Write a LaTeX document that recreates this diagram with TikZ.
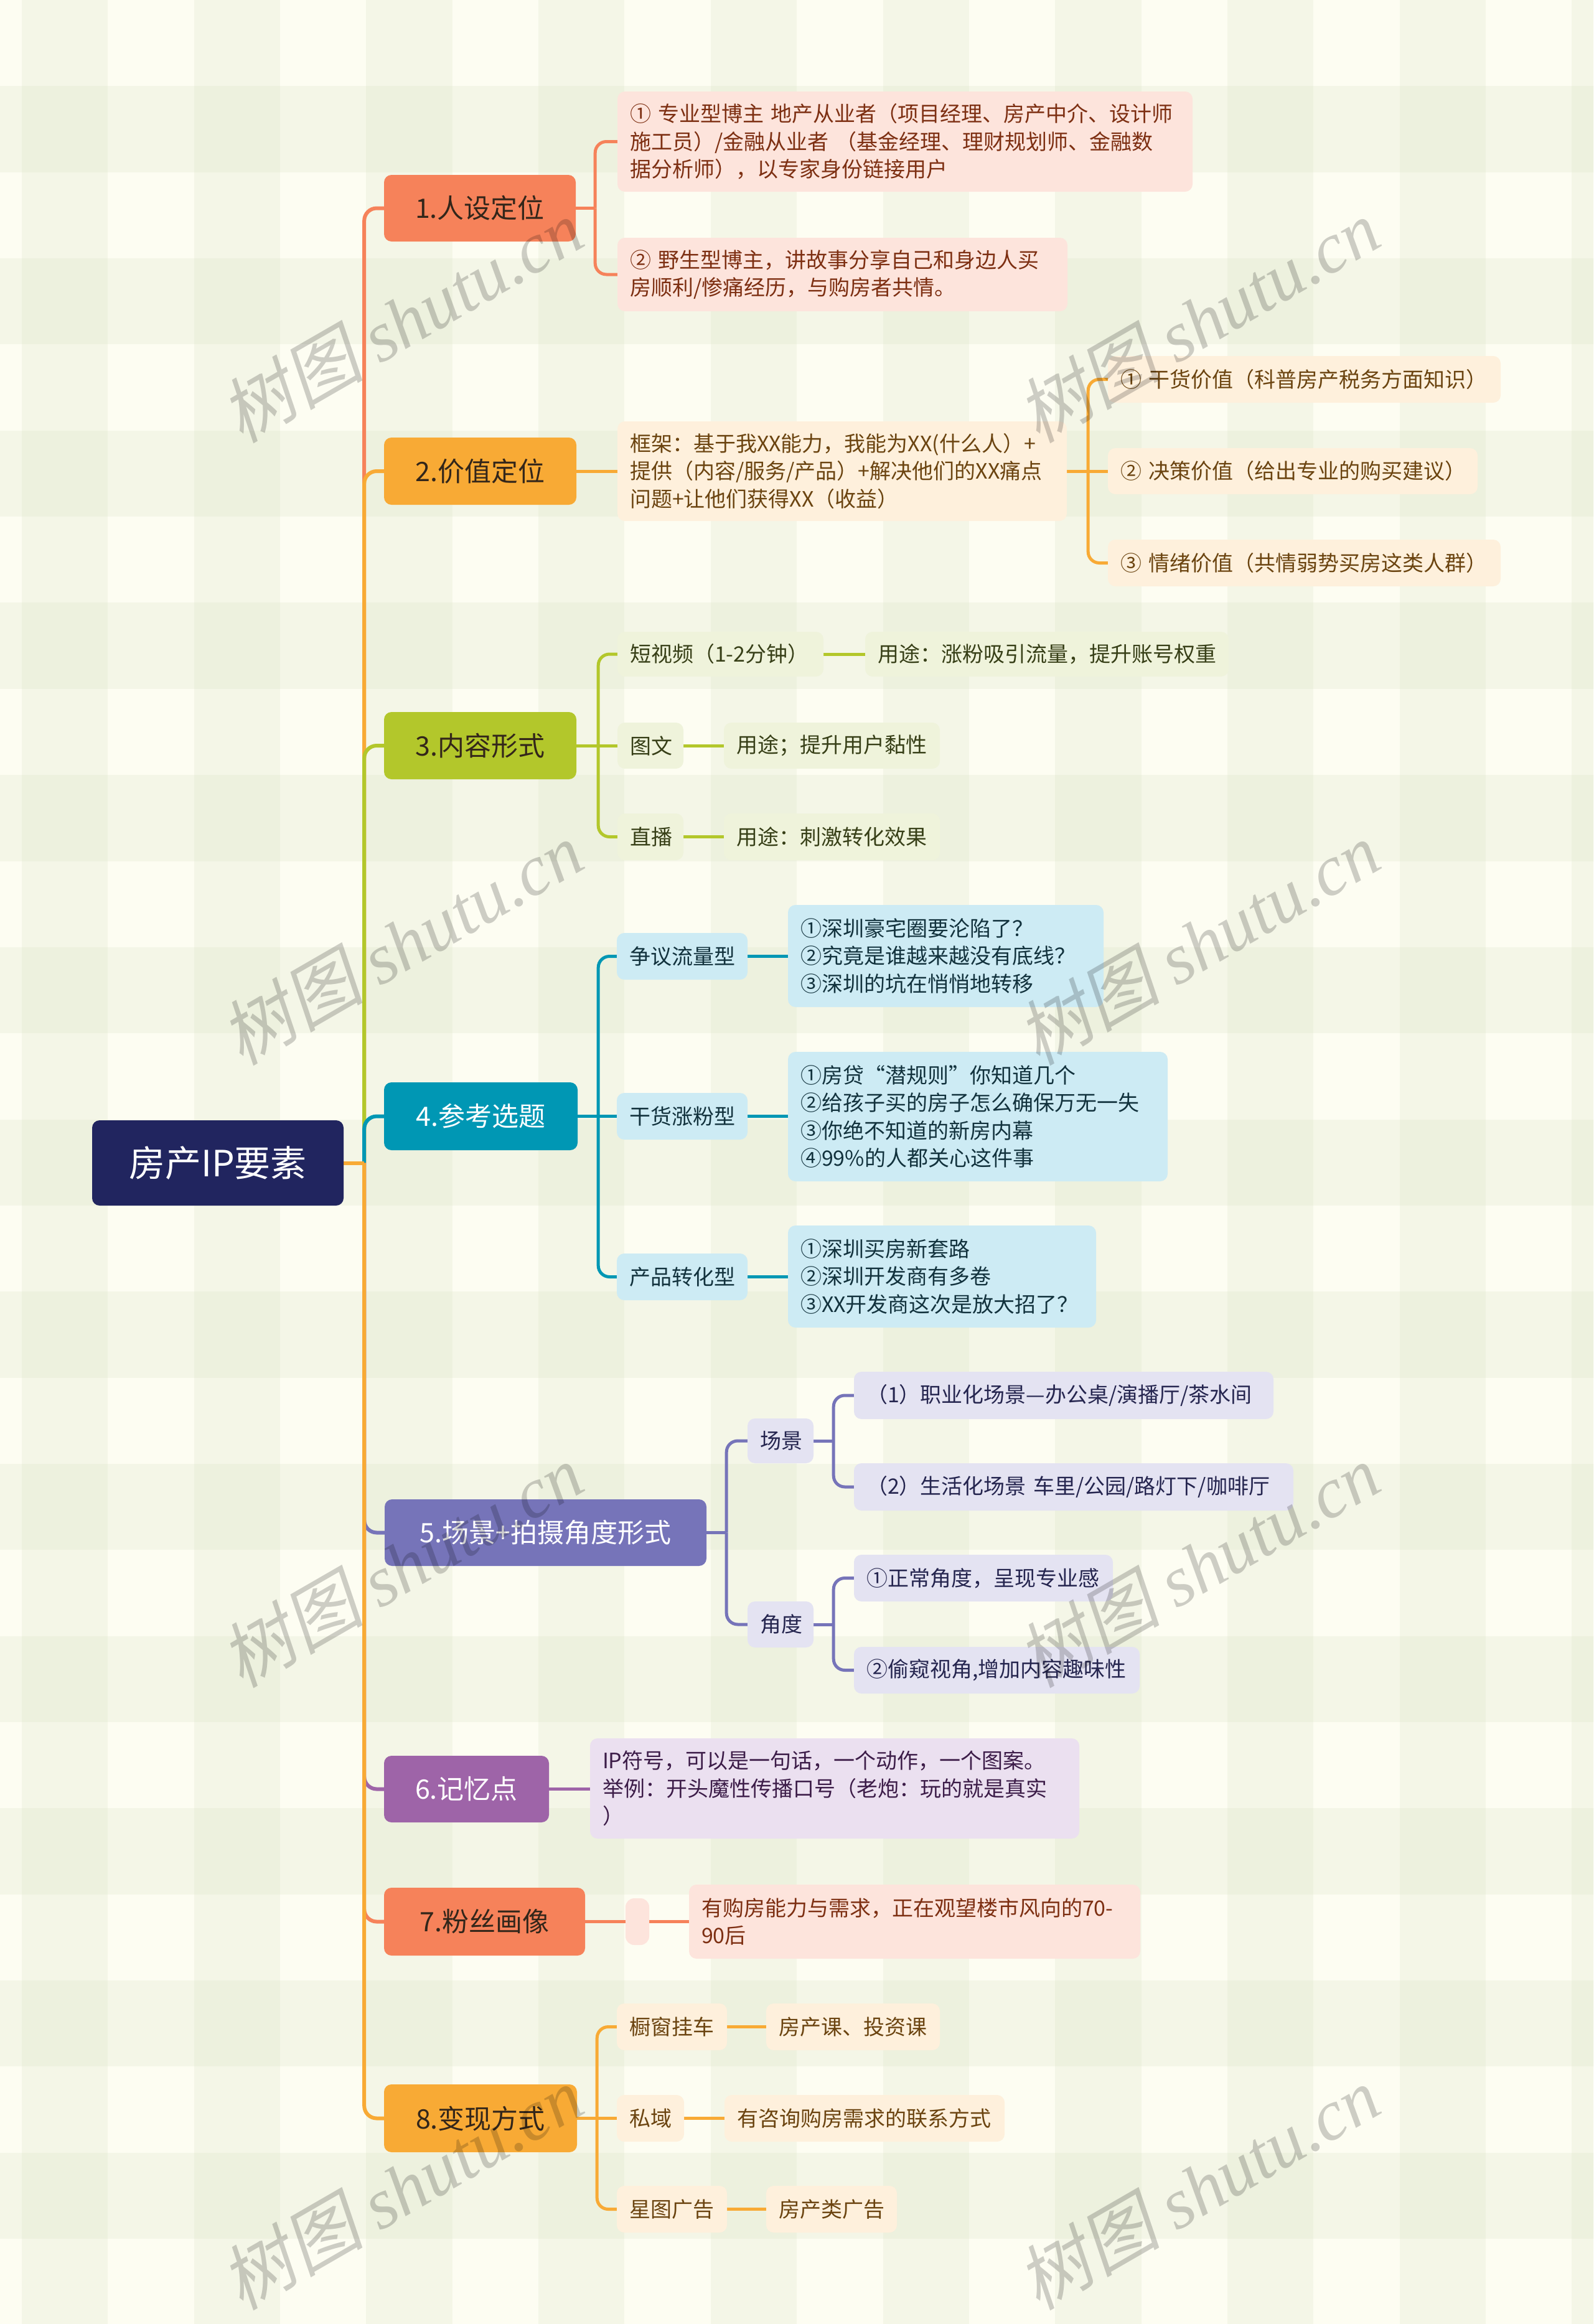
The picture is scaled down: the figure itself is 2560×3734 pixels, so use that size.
\documentclass[tikz,border=0pt]{standalone}
\usepackage{fontspec}
\setmainfont{Noto Sans CJK SC}
\newfontfamily\wmcjk[FakeSlant=0.2]{Noto Sans CJK SC}
\newfontfamily\wmlat{Liberation Serif}
\usetikzlibrary{calc}
\pgfdeclarelayer{bgl}
\pgfdeclarelayer{edgel}
\pgfdeclarelayer{frontl}
\pgfsetlayers{bgl,edgel,main,frontl}

\definecolor{cCoral}{HTML}{F6825A}
\definecolor{cOrange}{HTML}{F8AA35}
\definecolor{cOlive}{HTML}{B3C72B}
\definecolor{cTeal}{HTML}{0097B4}
\definecolor{cSlate}{HTML}{7674B9}
\definecolor{cPurple}{HTML}{9E64A8}
\definecolor{cNavy}{HTML}{21255F}
\definecolor{fCoral}{HTML}{FDE4DC}
\definecolor{fOrange}{HTML}{FEF0DC}
\definecolor{fOlive}{HTML}{EFF3DB}
\definecolor{fTeal}{HTML}{CDEBF4}
\definecolor{fSlate}{HTML}{E4E3F2}
\definecolor{fPurple}{HTML}{EBE0F0}
\definecolor{tDark}{HTML}{33261A}
\definecolor{tCoral}{HTML}{7D2F12}
\definecolor{tOrange}{HTML}{6B4410}
\definecolor{tOlive}{HTML}{373F17}
\definecolor{tTeal}{HTML}{12323D}
\definecolor{tSlate}{HTML}{25254F}
\definecolor{tPurple}{HTML}{3C1C48}
\definecolor{bgCream}{HTML}{FDFDF2}
\definecolor{bgStripe}{HTML}{F4F6E7}
\definecolor{bgCross}{HTML}{EDF1DE}

\newcommand\bx[7]{%
  \pgfmathsetmacro\bxW{#4-#2}%
  \pgfmathsetmacro\bxH{#5-#3}%
  \pgfmathsetmacro\bxT{#4-#2-40}%
  \pgfmathsetmacro\bxX{(#2+#4)/2}%
  \pgfmathsetmacro\bxY{(#3+#5)/2}%
  \node[#6, minimum width=\bxW pt, minimum height=\bxH pt, text width=\bxT pt] (#1) at (\bxX,\bxY) {#7};}

\tikzset{
  basebox/.style={rounded corners=12pt, inner xsep=20pt, inner ysep=0pt},
  rootbox/.style={basebox, fill=cNavy, text=white, align=center, font=\fontsize{58}{66}\selectfont},
  lvlone/.style={basebox, align=center, font=\fontsize{43}{52}\selectfont},
  lvltwo/.style={basebox, align=left, font=\fontsize{34}{44.5}\selectfont},
  mainconn/.style={line width=6pt, rounded corners=20pt},
  subconn/.style={line width=5pt, rounded corners=18pt},
  wm/.style={text=black, text opacity=0.19, rotate=30, inner sep=0pt, font=\fontsize{115}{115}\selectfont},
}

\begin{document}
\begin{tikzpicture}[x=1pt,y=-1pt]
\useasboundingbox (0,0) rectangle (2560,3734);

% background plaid
\begin{pgfonlayer}{bgl}
\fill[bgCream] (0,0) rectangle (2560,3734);
\begin{scope}
\clip (0,0) rectangle (2560,3734);
\foreach \k in {0,...,9} \fill[bgStripe] ({35+276.7*\k},0) rectangle ({173.35+276.7*\k},3734);
\foreach \k in {0,...,12} \fill[bgStripe] (0,{138.35+276.7*\k}) rectangle (2560,{276.7+276.7*\k});
\foreach \k in {0,...,9} \foreach \m in {0,...,12}
  \fill[bgCross] ({35+276.7*\k},{138.35+276.7*\m}) rectangle ({173.35+276.7*\k},{276.7+276.7*\m});
\end{scope}
\end{pgfonlayer}

% root
\bx{root}{148}{1800}{552}{1937}{rootbox}{房产IP要素}

% level one
\bx{n1}{617}{281}{925}{388}{lvlone,fill=cCoral,text=tDark}{1.人设定位}
\bx{n2}{617}{703}{926}{811}{lvlone,fill=cOrange,text=tDark}{2.价值定位}
\bx{n3}{617}{1144}{926}{1252}{lvlone,fill=cOlive,text=tDark}{3.内容形式}
\bx{n4}{617}{1739}{928}{1848}{lvlone,fill=cTeal,text=white}{4.参考选题}
\bx{n5}{618}{2409}{1135}{2516}{lvlone,fill=cSlate,text=white}{5.场景+拍摄角度形式}
\bx{n6}{617}{2821}{882}{2928}{lvlone,fill=cPurple,text=white}{6.记忆点}
\bx{n7}{617}{3033}{940}{3142}{lvlone,fill=cCoral,text=tDark}{7.粉丝画像}
\bx{n8}{617}{3349}{927}{3458}{lvlone,fill=cOrange,text=tDark}{8.变现方式}

% branch 1
\bx{n1a}{992}{147}{1916}{308}{lvltwo,fill=fCoral,text=tCoral}{①~专业型博主~地产从业者（项目经理、房产中介、设计师\\施工员）/金融从业者~（基金经理、理财规划师、金融数\\据分析师），以专家身份链接用户}
\bx{n1b}{992}{382}{1715}{500}{lvltwo,fill=fCoral,text=tCoral}{②~野生型博主，讲故事分享自己和身边人买\\房顺利/惨痛经历，与购房者共情。}

% branch 2
\bx{n2a}{992}{677}{1714}{837}{lvltwo,fill=fOrange,text=tOrange}{框架：基于我XX能力，我能为XX(什么人）+\\提供（内容/服务/产品）+解决他们的XX痛点\\问题+让他们获得XX（收益）}
\bx{n2a1}{1780}{572}{2411}{647}{lvltwo,fill=fOrange,text=tOrange}{①~干货价值（科普房产税务方面知识）}
\bx{n2a2}{1780}{720}{2374}{794}{lvltwo,fill=fOrange,text=tOrange}{②~决策价值（给出专业的购买建议）}
\bx{n2a3}{1780}{867}{2411}{942}{lvltwo,fill=fOrange,text=tOrange}{③~情绪价值（共情弱势买房这类人群）}

% branch 3
\bx{n3a}{992}{1015}{1323}{1087}{lvltwo,fill=fOlive,text=tOlive}{短视频（1\mbox{-}2分钟）}
\bx{n3b}{992}{1161}{1098}{1235}{lvltwo,fill=fOlive,text=tOlive}{图文}
\bx{n3c}{992}{1307}{1098}{1382}{lvltwo,fill=fOlive,text=tOlive}{直播}
\bx{n3a1}{1390}{1015}{1974}{1087}{lvltwo,fill=fOlive,text=tOlive}{用途：涨粉吸引流量，提升账号权重}
\bx{n3b1}{1163}{1161}{1510}{1235}{lvltwo,fill=fOlive,text=tOlive}{用途；提升用户黏性}
\bx{n3c1}{1163}{1307}{1510}{1382}{lvltwo,fill=fOlive,text=tOlive}{用途：刺激转化效果}

% branch 4
\bx{n4a}{991}{1499}{1201}{1574}{lvltwo,fill=fTeal,text=tTeal}{争议流量型}
\bx{n4b}{991}{1756}{1201}{1831}{lvltwo,fill=fTeal,text=tTeal}{干货涨粉型}
\bx{n4c}{991}{2014}{1201}{2089}{lvltwo,fill=fTeal,text=tTeal}{产品转化型}
\bx{n4a1}{1266}{1454}{1773}{1618}{lvltwo,fill=fTeal,text=tTeal}{①深圳豪宅圈要沦陷了？\\②究竟是谁越来越没有底线？\\③深圳的坑在悄悄地转移}
\bx{n4b1}{1266}{1690}{1876}{1898}{lvltwo,fill=fTeal,text=tTeal}{①房贷“潜规则”你知道几个\\②给孩子买的房子怎么确保万无一失\\③你绝不知道的新房内幕\\④99\%的人都关心这件事}
\bx{n4c1}{1266}{1969}{1761}{2133}{lvltwo,fill=fTeal,text=tTeal}{①深圳买房新套路\\②深圳开发商有多卷\\③XX开发商这次是放大招了？}

% branch 5
\bx{n5a}{1201}{2279}{1307}{2351}{lvltwo,fill=fSlate,text=tSlate}{场景}
\bx{n5b}{1201}{2573}{1307}{2647}{lvltwo,fill=fSlate,text=tSlate}{角度}
\bx{n5a1}{1372}{2204}{2046}{2280}{lvltwo,fill=fSlate,text=tSlate}{（1）职业化场景—办公桌/演播厅/茶水间}
\bx{n5a2}{1372}{2351}{2078}{2427}{lvltwo,fill=fSlate,text=tSlate}{（2）生活化场景~车里/公园/路灯下/咖啡厅}
\bx{n5b1}{1372}{2498}{1788}{2573}{lvltwo,fill=fSlate,text=tSlate}{①正常角度，呈现专业感}
\bx{n5b2}{1372}{2646}{1831}{2721}{lvltwo,fill=fSlate,text=tSlate}{②偷窥视角,增加内容趣味性}

% branch 6
\bx{n6a}{948}{2793}{1734}{2954}{lvltwo,fill=fPurple,text=tPurple}{IP符号，可以是一句话，一个动作，一个图案。\\举例：开头魔性传播口号（老炮：玩的就是真实\\）}

% branch 7
\node[fill=fCoral, rounded corners=14pt, minimum width=38pt, minimum height=75pt, inner sep=0pt] (n7e) at (1024,3087.5) {};
\bx{n7a}{1107}{3028}{1832}{3147}{lvltwo,fill=fCoral,text=tCoral}{有购房能力与需求，正在观望楼市风向的70\mbox{-}\\90后}

% branch 8
\bx{n8a}{991}{3219}{1168}{3294}{lvltwo,fill=fOrange,text=tOrange}{橱窗挂车}
\bx{n8b}{991}{3366}{1099}{3441}{lvltwo,fill=fOrange,text=tOrange}{私域}
\bx{n8c}{991}{3512}{1168}{3587}{lvltwo,fill=fOrange,text=tOrange}{星图广告}
\bx{n8a1}{1231}{3219}{1510}{3294}{lvltwo,fill=fOrange,text=tOrange}{房产课、投资课}
\bx{n8b1}{1164}{3366}{1614}{3441}{lvltwo,fill=fOrange,text=tOrange}{有咨询购房需求的联系方式}
\bx{n8c1}{1231}{3512}{1441}{3587}{lvltwo,fill=fOrange,text=tOrange}{房产类广告}

% connectors
\begin{pgfonlayer}{edgel}
\coordinate (rj) at ($(root.east)+(33,0)$);
\draw[mainconn,cCoral] (rj) |- (n1.west);
\draw[mainconn,cOrange] (rj) |- (n2.west);
\draw[mainconn,cOlive] (rj) |- (n3.west);
\draw[mainconn,cTeal] (rj) |- (n4.west);
\draw[mainconn,cSlate] (rj) |- (n5.west);
\draw[mainconn,cPurple] (rj) |- (n6.west);
\draw[mainconn,cCoral] (rj) |- (n7.west);
\draw[mainconn,cOrange] (rj) |- (n8.west);
\draw[line width=6pt,cOrange] (root.east) -- (rj);

% 1
\coordinate (j1) at ($(n1.east)+(31,0)$);
\draw[line width=5pt,cCoral] (n1.east) -- (j1);
\draw[subconn,cCoral] (j1) |- (n1a.west);
\draw[subconn,cCoral] (j1) |- (n1b.west);
% 2
\draw[line width=5pt,cOrange] (n2.east) -- (n2a.west);
\coordinate (j2) at ($(n2a.east)+(34,0)$);
\draw[line width=5pt,cOrange] (n2a.east) -- (n2a2.west);
\draw[subconn,cOrange] (j2) |- (n2a1.west);
\draw[subconn,cOrange] (j2) |- (n2a3.west);
% 3
\coordinate (j3) at ($(n3.east)+(35,0)$);
\draw[line width=5pt,cOlive] (n3.east) -- (n3b.west);
\draw[subconn,cOlive] (j3) |- (n3a.west);
\draw[subconn,cOlive] (j3) |- (n3c.west);
\draw[line width=5pt,cOlive] (n3a.east) -- (n3a1.west);
\draw[line width=5pt,cOlive] (n3b.east) -- (n3b1.west);
\draw[line width=5pt,cOlive] (n3c.east) -- (n3c1.west);
% 4
\coordinate (j4) at ($(n4.east)+(33,0)$);
\draw[line width=5pt,cTeal] (n4.east) -- (n4b.west);
\draw[subconn,cTeal] (j4) |- (n4a.west);
\draw[subconn,cTeal] (j4) |- (n4c.west);
\draw[line width=5pt,cTeal] (n4a.east) -- (n4a1.west |- n4a.east);
\draw[line width=5pt,cTeal] (n4b.east) -- (n4b1.west |- n4b.east);
\draw[line width=5pt,cTeal] (n4c.east) -- (n4c1.west |- n4c.east);
% 5
\coordinate (j5) at ($(n5.east)+(32,0)$);
\draw[line width=5pt,cSlate] (n5.east) -- (j5);
\draw[subconn,cSlate] (j5) |- (n5a.west);
\draw[subconn,cSlate] (j5) |- (n5b.west);
\coordinate (j5a) at ($(n5a.east)+(32,0)$);
\draw[line width=5pt,cSlate] (n5a.east) -- (j5a);
\draw[subconn,cSlate] (j5a) |- (n5a1.west);
\draw[subconn,cSlate] (j5a) |- (n5a2.west);
\coordinate (j5b) at ($(n5b.east)+(32,0)$);
\draw[line width=5pt,cSlate] (n5b.east) -- (j5b);
\draw[subconn,cSlate] (j5b) |- (n5b1.west);
\draw[subconn,cSlate] (j5b) |- (n5b2.west);
% 6
\draw[line width=5pt,cPurple] (n6.east) -- (n6a.west |- n6.east);
% 7
\draw[line width=5pt,cCoral] (n7.east) -- (n7e.west);
\draw[line width=5pt,cCoral] (n7e.east) -- (n7a.west |- n7e.east);
% 8
\coordinate (j8) at ($(n8.east)+(32,0)$);
\draw[line width=5pt,cOrange] (n8.east) -- (n8b.west);
\draw[subconn,cOrange] (j8) |- (n8a.west);
\draw[subconn,cOrange] (j8) |- (n8c.west);
\draw[line width=5pt,cOrange] (n8a.east) -- (n8a1.west);
\draw[line width=5pt,cOrange] (n8b.east) -- (n8b1.west);
\draw[line width=5pt,cOrange] (n8c.east) -- (n8c1.west);
\end{pgfonlayer}

% watermarks
\begin{pgfonlayer}{frontl}
\foreach \k/\px/\py in {1/645/515,2/1925/515,3/645/1515,4/1925/1515,5/645/2515,6/1925/2515,7/645/3515,8/1925/3515}
  \node[wm] (wm\k) at (\px,\py) {{\wmcjk 树图} {\wmlat\itshape shutu.cn}};
\end{pgfonlayer}
\end{tikzpicture}
\end{document}
